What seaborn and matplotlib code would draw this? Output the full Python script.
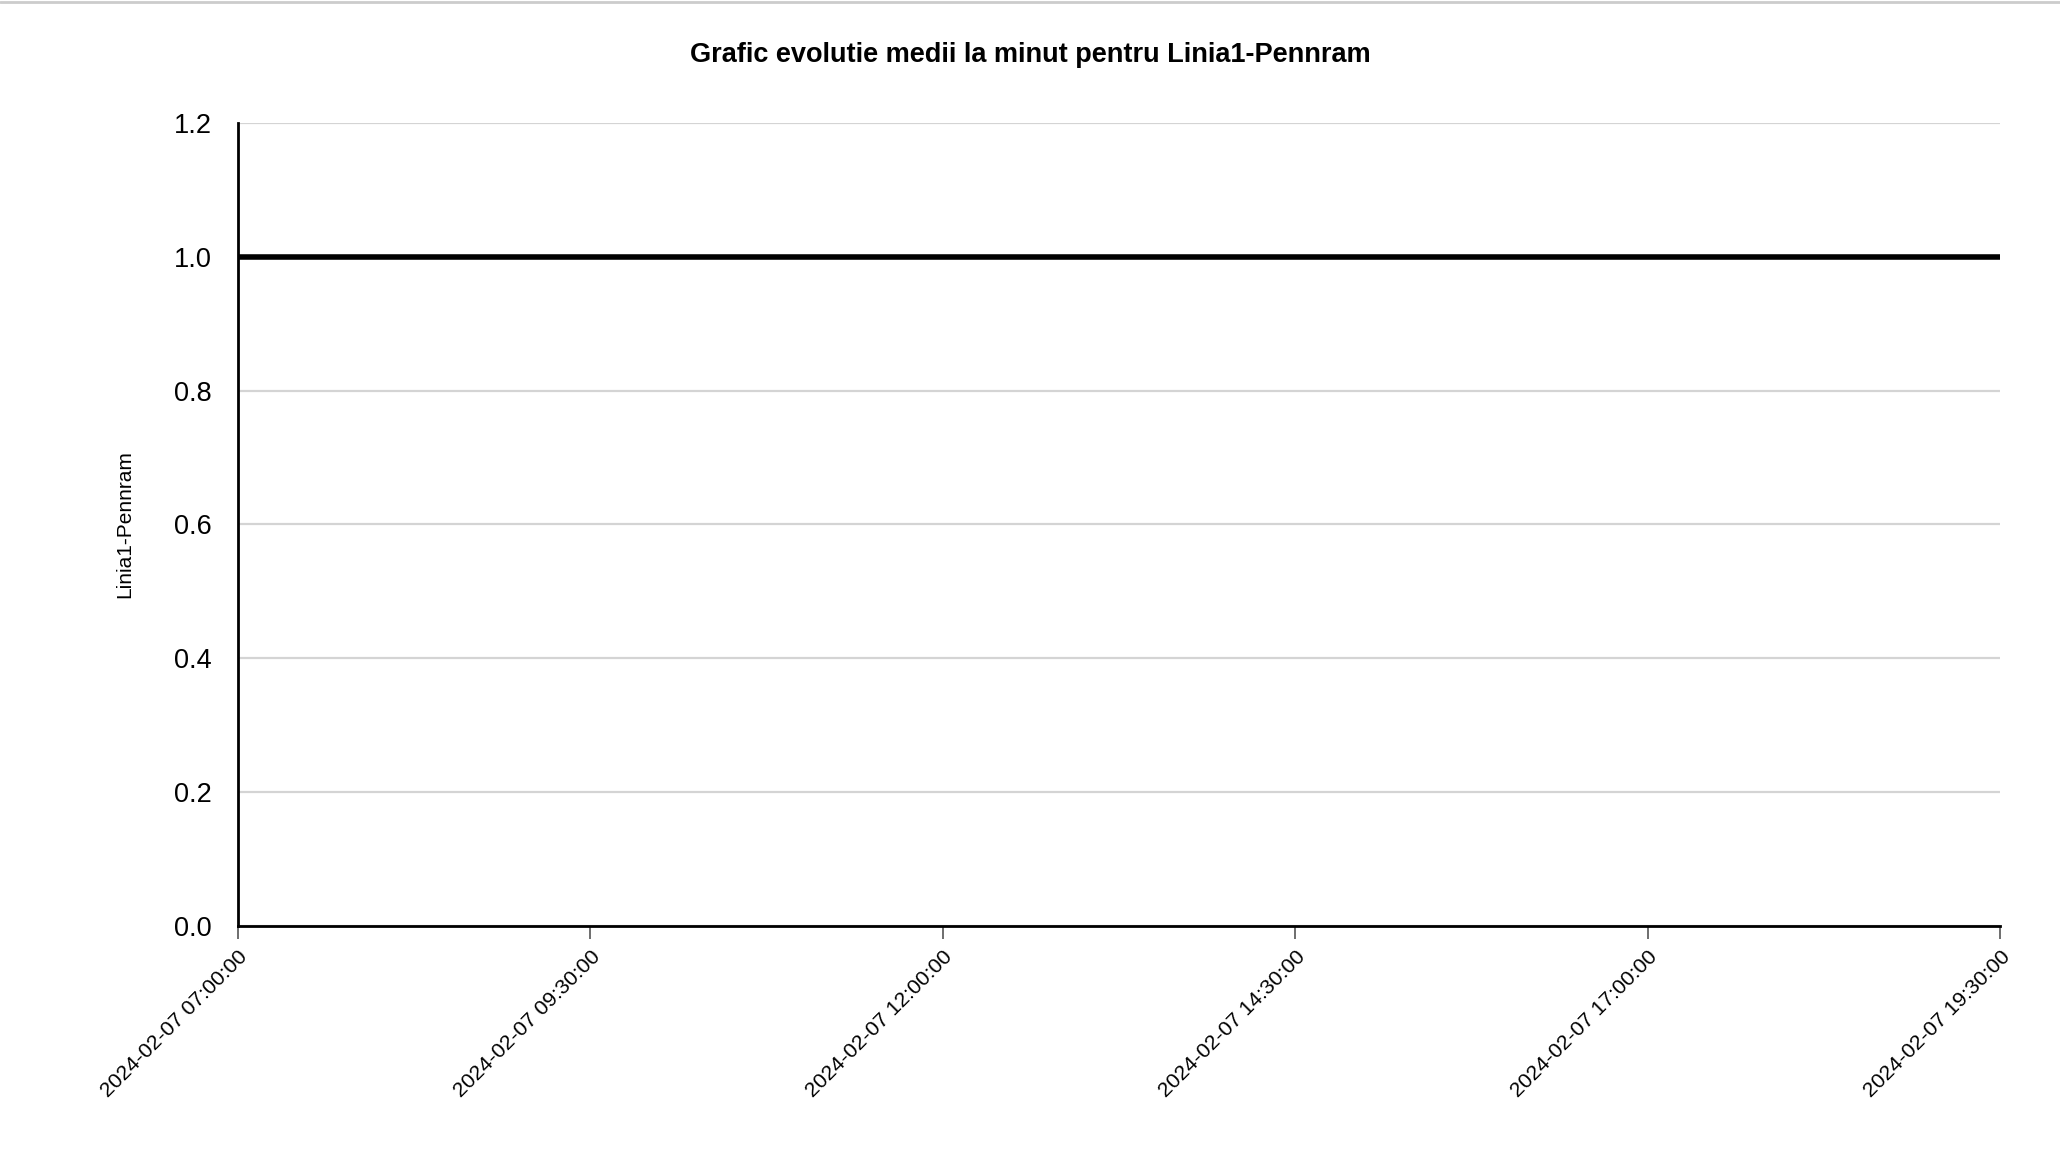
import pandas as pd
import matplotlib.pyplot as plt
from matplotlib.lines import Line2D
import seaborn as sns

# ==============================
# Date
# ==============================
times = [
    "2024-02-07 07:00:00", "2024-02-07 07:30:00", "2024-02-07 08:00:00", "2024-02-07 08:30:00",
    "2024-02-07 09:00:00", "2024-02-07 09:30:00", "2024-02-07 10:00:00", "2024-02-07 10:30:00",
    "2024-02-07 11:00:00", "2024-02-07 11:30:00", "2024-02-07 12:00:00", "2024-02-07 12:30:00",
    "2024-02-07 13:00:00", "2024-02-07 13:30:00", "2024-02-07 14:00:00", "2024-02-07 14:30:00",
    "2024-02-07 15:00:00", "2024-02-07 15:30:00", "2024-02-07 16:00:00", "2024-02-07 16:30:00",
    "2024-02-07 17:00:00", "2024-02-07 17:30:00", "2024-02-07 18:00:00", "2024-02-07 18:30:00",
    "2024-02-07 19:00:00", "2024-02-07 19:30:00",
]
values = [1.0] * 26
tick_labels = [
    "2024-02-07 07:00:00", "2024-02-07 09:30:00", "2024-02-07 12:00:00",
    "2024-02-07 14:30:00", "2024-02-07 17:00:00", "2024-02-07 19:30:00",
]
y_ticks = [0.0, 0.2, 0.4, 0.6, 0.8, 1.0, 1.2]

df = pd.DataFrame({"Timp": pd.to_datetime(times), "Linia1-Pennram": values})

# ==============================
# Configurari
# ==============================
sns.set_theme(style="white")
plt.rcParams["font.family"] = ["Liberation Sans", "DejaVu Sans"]

fig = plt.figure(figsize=(20.6, 11.56), dpi=100)
ax = fig.add_axes([0.1155, 0.199, 0.8555, 0.6946])

sns.lineplot(data=df, x="Timp", y="Linia1-Pennram", color="black", linewidth=4, ax=ax)

ax.set_xlim(df["Timp"].iloc[0], df["Timp"].iloc[-1])
ax.set_ylim(0, 1.2)
ax.set_yticks(y_ticks)
ax.set_yticklabels([f"{v:.1f}" for v in y_ticks], fontsize=19.5, color="black")
ax.grid(axis="y", color="#d4d4d4", linewidth=1.6)
ax.set_axisbelow(True)

xt = pd.to_datetime(tick_labels)
ax.set_xticks(xt)
ax.set_xticklabels(tick_labels, rotation=45, ha="right", rotation_mode="anchor",
                   fontsize=15.3, color="black")

ax.tick_params(axis="y", length=14, width=1.6, color="#bbbbbb", pad=5)
ax.tick_params(axis="x", length=9, width=1.2, color="#555555", pad=6, bottom=True)

for s in ["top", "right"]:
    ax.spines[s].set_visible(False)
for s in ["left", "bottom"]:
    ax.spines[s].set_color("black")
    ax.spines[s].set_linewidth(2)

ax.set_xlabel("")
ax.set_ylabel("Linia1-Pennram", fontsize=15, labelpad=28, color="black")
fig.suptitle("Grafic evolutie medii la minut pentru Linia1-Pennram",
             fontsize=19.5, fontweight="bold", y=0.964, color="black")

# linia gri de sus
fig.add_artist(Line2D([0, 1], [0.9985, 0.9985], transform=fig.transFigure,
                      color="#cccccc", linewidth=2))

fig.savefig("out.png", dpi=100)
plt.close()
